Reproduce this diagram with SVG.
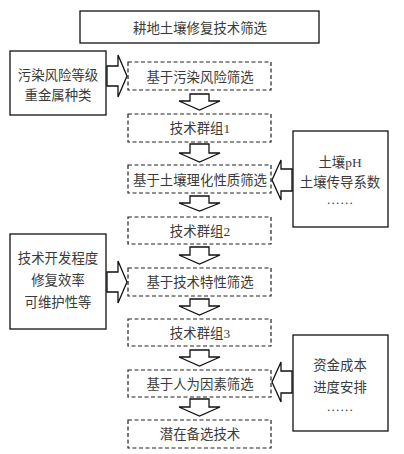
<svg xmlns="http://www.w3.org/2000/svg" width="404" height="454" viewBox="0 0 404 454">
<style>
.solid{fill:#fff;stroke:#111;stroke-width:1.3}
.dash{fill:#fff;stroke:#222;stroke-width:1.2;stroke-dasharray:4 2.5}
.arr{fill:#fff;stroke:#111;stroke-width:1.3;stroke-linejoin:miter}
text{font-family:"Liberation Serif","Noto Sans CJK SC",serif;font-size:13.4px;fill:#3a3a3a;text-anchor:middle;dominant-baseline:central}
</style>
<rect width="404" height="454" fill="#fff"/>
<g id="connectors">
<polygon class="arr" points="190,94 209,94 209,101 220,101 199.5,110 179,101 190,101"/>
<polygon class="arr" points="190,144 209,144 209,153 220,153 199.5,162 179,153 190,153"/>
<polygon class="arr" points="190,196 209,196 209,203 220,203 199.5,211 179,203 190,203"/>
<polygon class="arr" points="190,247 209,247 209,255 220,255 199.5,264 179,255 190,255"/>
<polygon class="arr" points="190,299 209,299 209,306 220,306 199.5,315 179,306 190,306"/>
<polygon class="arr" points="190,350 209,350 209,357 220,357 199.5,366 179,357 190,357"/>
<polygon class="arr" points="190,399 209,399 209,407 220,407 199.5,416 179,407 190,407"/>
<polygon class="arr" points="107,66 118,66 118,55 127,76 118,97 118,86 107,86"/>
<polygon class="arr" points="107,272 118,272 118,261 127,282 118,303 118,292 107,292"/>
<polygon class="arr" points="292,169 281,169 281,160 272,180 281,200 281,191 292,191"/>
<polygon class="arr" points="292,371 281,371 281,362 272,382 281,402 281,393 292,393"/>
</g>
<g id="title"><rect class="solid" x="80" y="11" width="239" height="32"/><text x="200" y="28">耕地土壤修复技术筛选</text></g>
<g id="left1"><rect class="solid" x="10" y="51" width="96" height="64"/><text x="58" y="75">污染风险等级</text><text x="58" y="95">重金属种类</text></g>
<g id="step1"><rect class="dash" x="128" y="62" width="143" height="28"/><text x="200" y="77">基于污染风险筛选</text></g>
<g id="group1"><rect class="dash" x="128" y="114" width="143" height="28"/><text x="200" y="128">技术群组1</text></g>
<g id="right1"><rect class="solid" x="293" y="131" width="95" height="96"/><text x="340" y="162">土壤pH</text><text x="340" y="182">土壤传导系数</text><text x="340" y="199">……</text></g>
<g id="step2"><rect class="dash" x="128" y="165" width="143" height="28"/><text x="200" y="180">基于土壤理化性质筛选</text></g>
<g id="group2"><rect class="dash" x="128" y="217" width="143" height="27"/><text x="200" y="231">技术群组2</text></g>
<g id="left2"><rect class="solid" x="10" y="234" width="96" height="95"/><text x="58" y="258">技术开发程度</text><text x="58" y="280">修复效率</text><text x="58" y="302">可维护性等</text></g>
<g id="step3"><rect class="dash" x="128" y="268" width="143" height="28"/><text x="200" y="282">基于技术特性筛选</text></g>
<g id="group3"><rect class="dash" x="128" y="319" width="143" height="27"/><text x="200" y="333">技术群组3</text></g>
<g id="right2"><rect class="solid" x="293" y="335" width="95" height="96"/><text x="340" y="365">资金成本</text><text x="340" y="387">进度安排</text><text x="340" y="406">……</text></g>
<g id="step4"><rect class="dash" x="128" y="370" width="143" height="27"/><text x="200" y="384">基于人为因素筛选</text></g>
<g id="result"><rect class="dash" x="128" y="420" width="143" height="28"/><text x="200" y="434">潜在备选技术</text></g>
</svg>
